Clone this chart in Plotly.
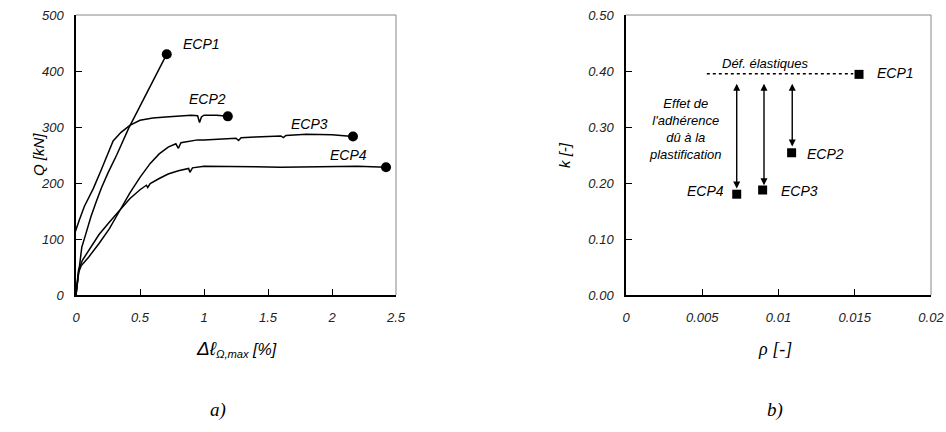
import plotly.graph_objects as go

# ---- Data: panel a) load-strain curves ----
ecp1_x = [0, 0.02, 0.045, 0.078, 0.117, 0.16, 0.2, 0.25, 0.318, 0.41, 0.5, 0.6, 0.709]
ecp1_y = [0, 40, 85, 110, 140, 168, 192, 218, 250, 297, 337, 383, 430]

ecp2_x = [0, -0.01, -0.015, -0.01, 0.0, 0.026, 0.065, 0.135, 0.2, 0.25, 0.29, 0.35, 0.42,
          0.5, 0.6, 0.7, 0.8, 0.9, 0.95, 0.965, 0.98, 1.0, 1.1, 1.186]
ecp2_y = [0, 40, 80, 110, 118, 134, 158, 190, 225, 252, 275, 290, 303,
          312, 316, 318, 320, 321, 320, 308, 318, 321, 321, 319]

ecp3_x = [0, 0.02, 0.04, 0.1, 0.18, 0.26, 0.34, 0.42, 0.5, 0.58, 0.65, 0.72, 0.78, 0.8, 0.82,
          0.9, 0.95, 1.0, 1.1, 1.25, 1.27, 1.29, 1.4, 1.6, 1.62, 1.64, 1.8, 1.9, 2.0, 2.164]
ecp3_y = [0, 40, 52, 68, 92, 118, 150, 182, 210, 235, 252, 264, 270, 262, 272,
          275, 277, 277, 278, 280, 276, 281, 282, 284, 281, 285, 287, 287, 286, 283]

ecp4_x = [0, 0.02, 0.05, 0.1, 0.18, 0.26, 0.34, 0.42, 0.5, 0.55, 0.56, 0.58, 0.65, 0.72, 0.8,
          0.88, 0.89, 0.91, 1.0, 1.2, 1.4, 1.6, 1.8, 2.0, 2.2, 2.422]
ecp4_y = [0, 45, 62, 80, 108, 130, 152, 172, 188, 196, 192, 199, 208, 216, 222,
          226, 219, 227, 230, 230, 229, 228, 229, 230, 230, 228]

curve_names = ["ECP1", "ECP2", "ECP3", "ECP4"]
label_a_x = [0.977, 1.027, 1.825, 2.125]
label_a_y = [449, 350, 306, 250]

# ---- Data: panel b) k vs rho ----
rho = [0.01528, 0.01086, 0.00896, 0.00726]
k_val = [0.394, 0.254, 0.1875, 0.180]
k_elastic = 0.395
elastic_rho_range = [0.0053, 0.0149]
arrow_rho = [0.0109, 0.00905, 0.00726]
arrow_k_end = [0.265, 0.196, 0.19]
label_b_x = [0.0177, 0.0131, 0.0114, 0.00523]
label_b_y = [0.396, 0.252, 0.186, 0.186]

FONT = "Liberation Sans, Arial, sans-serif"
SERIF = "Liberation Serif, Times New Roman, serif"

fig = go.Figure()

curves = [(ecp1_x, ecp1_y), (ecp2_x, ecp2_y), (ecp3_x, ecp3_y), (ecp4_x, ecp4_y)]
for (cx, cy), nm in zip(curves, curve_names):
    fig.add_trace(go.Scatter(x=cx, y=cy, mode="lines", line=dict(color="black", width=1.5),
                             xaxis="x", yaxis="y", showlegend=False, name=nm, cliponaxis=False))
    fig.add_trace(go.Scatter(x=[cx[-1]], y=[cy[-1]], mode="markers",
                             marker=dict(color="black", size=10, symbol="circle"),
                             xaxis="x", yaxis="y", showlegend=False, cliponaxis=False))

for nm, lx, ly in zip(curve_names, label_a_x, label_a_y):
    fig.add_annotation(x=lx, y=ly, xref="x", yref="y", text=nm, showarrow=False,
                       xanchor="center", yanchor="middle",
                       font=dict(family=FONT, size=14, color="black", style="italic"))

# panel b
fig.add_trace(go.Scatter(x=elastic_rho_range, y=[k_elastic, k_elastic], mode="lines",
                         line=dict(color="black", width=1.6, dash="3px,3px"),
                         xaxis="x2", yaxis="y2", showlegend=False))
fig.add_trace(go.Scatter(x=rho, y=k_val, mode="markers",
                         marker=dict(color="black", size=9, symbol="square"),
                         xaxis="x2", yaxis="y2", showlegend=False))

for ax_, ke in zip(arrow_rho, arrow_k_end):
    fig.add_annotation(x=ax_, y=ke, ax=ax_, ay=k_elastic, xref="x2", yref="y2",
                       axref="x2", ayref="y2", showarrow=True, arrowhead=2, startarrowhead=2,
                       arrowside="end+start", arrowsize=1, arrowwidth=1.4, arrowcolor="black",
                       text=" ")

for nm, lx, ly in zip(curve_names, label_b_x, label_b_y):
    fig.add_annotation(x=lx, y=ly, xref="x2", yref="y2", text=nm, showarrow=False,
                       xanchor="center", yanchor="middle",
                       font=dict(family=FONT, size=14, color="black", style="italic"))

fig.add_annotation(x=0.0091, y=0.413, xref="x2", yref="y2", text="Déf. élastiques",
                   showarrow=False, xanchor="center", yanchor="middle",
                   font=dict(family=FONT, size=13, color="black", style="italic"))
fig.add_annotation(x=0.00387, y=0.296, xref="x2", yref="y2",
                   text="Effet de<br>l'adhérence<br>dû à la<br>plastification",
                   showarrow=False, align="center", xanchor="center", yanchor="middle",
                   font=dict(family=FONT, size=13, color="black", style="italic"))


def px(x):
    return x / 946.0


def py(y):
    return 1 - y / 432.0


def paper_text(x, y, text, font, angle=0):
    fig.add_annotation(x=px(x), y=py(y), xref="paper", yref="paper", showarrow=False,
                       xanchor="center", yanchor="middle", textangle=angle,
                       text=text, font=font)


paper_text(236, 349, "<span style='font-size:19px'>Δℓ</span><sub>Ω,max</sub> [%]",
           dict(family=FONT, size=16, color="black", style="italic"))
paper_text(775, 349, "ρ [-]", dict(family=SERIF, size=18, color="black", style="italic"))
paper_text(38, 155, "Q [kN]", dict(family=FONT, size=15, color="black", style="italic"), -90)
paper_text(564, 155, "k [-]", dict(family=FONT, size=15, color="black", style="italic"), -90)
paper_text(218, 410, "a)", dict(family=SERIF, size=19, color="black", style="italic"))
paper_text(775, 410, "b)", dict(family=SERIF, size=19, color="black", style="italic"))

tickfont = dict(family=FONT, size=13, color="#222", style="italic")
common = dict(showgrid=False, zeroline=False, ticks="inside", ticklen=6, tickcolor="black",
              showline=True, linecolor="black", linewidth=1.5, tickfont=tickfont,
              automargin=False)

dom_a = [px(76), px(396)]
dom_b = [px(626), px(931)]
dom_y = [py(295), py(15)]

fig.update_layout(
    width=946, height=432, margin=dict(l=0, r=0, t=0, b=0, autoexpand=False),
    paper_bgcolor="white", plot_bgcolor="white",
    xaxis=dict(domain=dom_a, range=[0, 2.5], dtick=0.5, tick0=0, anchor="y",
               ticklabelstandoff=10, **common),
    yaxis=dict(domain=dom_y, range=[0, 500], dtick=100, tick0=0, anchor="x",
               ticklabelstandoff=8, **common),
    xaxis2=dict(domain=dom_b, range=[0, 0.02], dtick=0.005, tick0=0, anchor="y2",
                ticklabelstandoff=10, **common),
    yaxis2=dict(domain=dom_y, range=[0, 0.5], dtick=0.1, tick0=0, tickformat=".2f", anchor="x2",
                ticklabelstandoff=8, **common),
)

# gray frame (top/right)
for xr, yr in [("x domain", "y domain"), ("x2 domain", "y2 domain")]:
    fig.add_shape(type="line", x0=0, x1=1, y0=1, y1=1, xref=xr, yref=yr,
                  line=dict(color="#888", width=1))
    fig.add_shape(type="line", x0=1, x1=1, y0=0, y1=1, xref=xr, yref=yr,
                  line=dict(color="#888", width=1))

fig.write_html("out.html", config={"displayModeBar": False},
               post_script="document.body.style.margin='0';document.body.style.overflow='hidden';")
